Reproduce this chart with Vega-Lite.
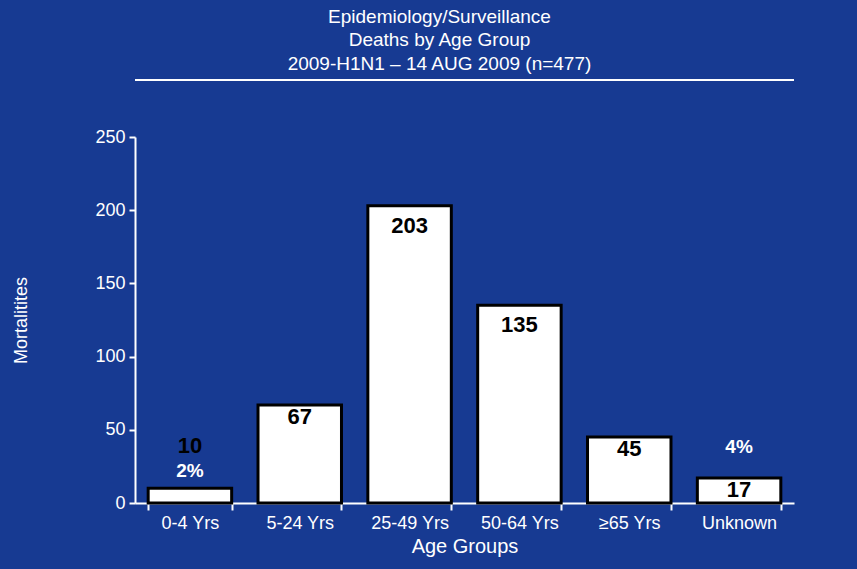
{
  "$schema": "https://vega.github.io/schema/vega-lite/v6.json",
  "width": 659,
  "height": 366,
  "autosize": "none",
  "padding": {"left": 135, "top": 137, "right": 63, "bottom": 66},
  "background": "#173a92",
  "config": {
    "font": "Liberation Sans",
    "view": {"stroke": null},
    "axis": {"grid": false, "domainColor": "white", "tickColor": "white", "labelColor": "white", "titleColor": "white", "domainWidth": 2, "tickWidth": 2, "labelFont": "Liberation Sans", "titleFont": "Liberation Sans", "titleFontWeight": "normal"}
  },
  "title": {
    "text": ["Epidemiology/Surveillance", "Deaths by Age Group", "2009-H1N1 – 14 AUG 2009 (n=477)"],
    "color": "white",
    "fontSize": 19,
    "fontWeight": "normal",
    "font": "Liberation Sans",
    "lineHeight": 23.5,
    "anchor": "middle",
    "dx": -25,
    "offset": 5
  },
  "data": {
    "values": [
      {"group": "0-4 Yrs", "count": 10, "pct": "2%"},
      {"group": "5-24 Yrs", "count": 67, "pct": null},
      {"group": "25-49 Yrs", "count": 203, "pct": null},
      {"group": "50-64 Yrs", "count": 135, "pct": null},
      {"group": "≥65  Yrs", "count": 45, "pct": null},
      {"group": "Unknown", "count": 17, "pct": "4%"}
    ]
  },
  "encoding": {
    "x": {
      "field": "group", "type": "nominal", "sort": null,
      "scale": {"paddingInner": 0.24, "paddingOuter": 0.12},
      "axis": {"title": "Age Groups", "labelAngle": 0, "labelFontSize": 18, "titleFontSize": 20, "tickBand": "extent", "tickSize": 7, "labelPadding": 4, "titlePadding": 4}
    },
    "y": {
      "field": "count", "type": "quantitative",
      "scale": {"domain": [0, 250]},
      "axis": {"title": "Mortalitites", "values": [0, 50, 100, 150, 200, 250], "labelFontSize": 18, "titleFontSize": 18, "tickSize": 6, "labelPadding": 4, "titlePadding": 64}
    }
  },
  "layer": [
    {"mark": {"type": "bar", "fill": "white", "stroke": "black", "strokeWidth": 3}},
    {
      "transform": [{"filter": "datum.count > 100"}],
      "mark": {"type": "text", "baseline": "middle", "dy": 20, "fontSize": 22, "fontWeight": "bold", "color": "black"},
      "encoding": {"text": {"field": "count"}}
    },
    {
      "transform": [{"filter": "datum.count > 15 && datum.count <= 100"}],
      "mark": {"type": "text", "baseline": "middle", "dy": 12, "fontSize": 22, "fontWeight": "bold", "color": "black"},
      "encoding": {"text": {"field": "count"}}
    },
    {
      "transform": [{"filter": "datum.count <= 15"}],
      "mark": {"type": "text", "baseline": "middle", "dy": -42, "fontSize": 22, "fontWeight": "bold", "color": "black"},
      "encoding": {"text": {"field": "count"}}
    },
    {
      "transform": [{"filter": "datum.group == '0-4 Yrs'"}],
      "mark": {"type": "text", "baseline": "middle", "dy": -17, "fontSize": 19, "fontWeight": "bold", "color": "white"},
      "encoding": {"text": {"field": "pct"}}
    },
    {
      "transform": [{"filter": "datum.group == 'Unknown'"}],
      "mark": {"type": "text", "baseline": "middle", "dy": -31, "fontSize": 19, "fontWeight": "bold", "color": "white"},
      "encoding": {"text": {"field": "pct"}}
    },
    {
      "mark": {"type": "rule", "color": "white", "strokeWidth": 2, "clip": false},
      "encoding": {"y": {"datum": 289}, "x": null}
    }
  ]
}
